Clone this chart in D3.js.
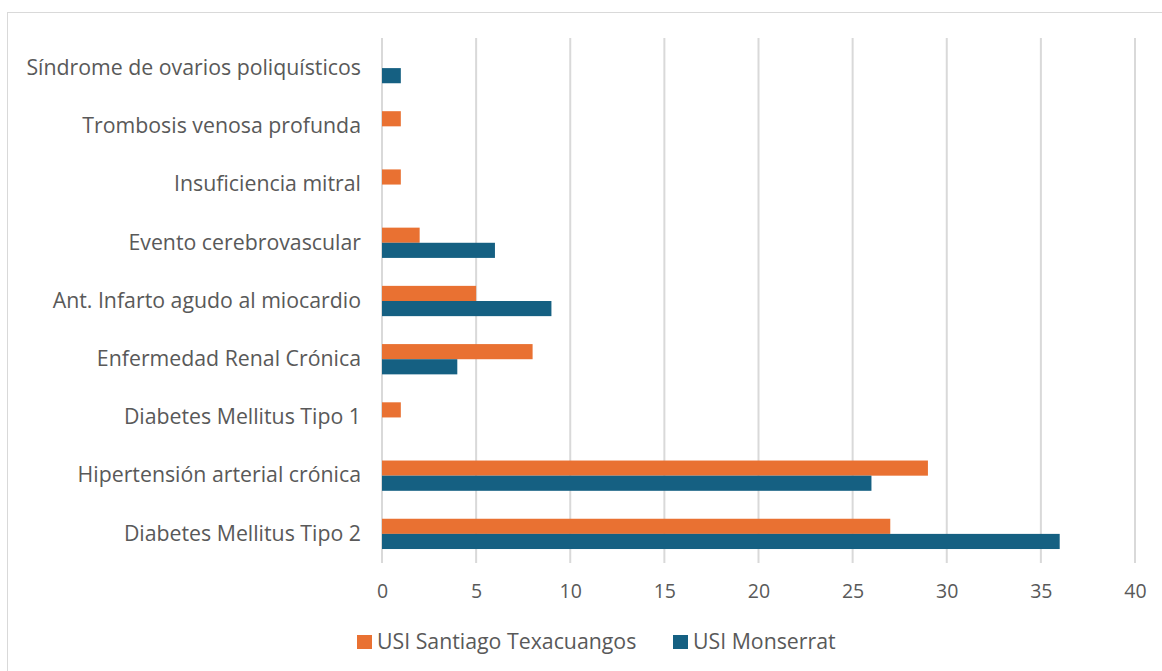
<!DOCTYPE html>
<html><head><meta charset="utf-8">
<script src="https://cdn.jsdelivr.net/npm/d3@7"></script>
<style>body{margin:0;background:#fff;} svg{display:block;}</style>
</head><body>
<svg id="c" width="1162" height="671"></svg>
<script>
const categories = ["Síndrome de ovarios poliquísticos","Trombosis venosa profunda","Insuficiencia mitral","Evento cerebrovascular","Ant. Infarto agudo al miocardio","Enfermedad Renal Crónica","Diabetes Mellitus Tipo 1","Hipertensión arterial crónica","Diabetes Mellitus Tipo 2"];
const seriesNames = ["USI Santiago Texacuangos","USI Monserrat"];
const santiago = [0,1,1,2,5,8,1,29,27];
const monserrat = [1,0,0,6,9,4,0,26,36];
const xTicks = [0,5,10,15,20,25,30,35,40];
const colors = ["#E97132","#156082"];

const svg = d3.select("#c");
const font = "'Open Sans', sans-serif";
svg.append("rect").attr("x",7.5).attr("y",12.5).attr("width",1170).attr("height",680)
  .attr("fill","#fff").attr("stroke","#d9d9d9").attr("stroke-width",1);

const x = d3.scaleLinear().domain([0,40]).range([382,1135]);
const y = d3.scaleBand().domain(categories).range([39,563]).paddingInner(0.48).paddingOuter(0.24);
const ys = d3.scaleBand().domain(seriesNames).range([0,y.bandwidth()]);

const g = svg.append("g");
g.selectAll("line.grid").data(xTicks).join("line")
  .attr("x1",d=>x(d)).attr("x2",d=>x(d)).attr("y1",38).attr("y2",563)
  .attr("stroke","#d9d9d9").attr("stroke-width",2);

const data = [santiago, monserrat];
data.forEach((vals,si)=>{
  g.selectAll("rect.s"+si).data(vals).join("rect")
    .attr("x",x(0)).attr("y",(d,i)=>y(categories[i])+ys(seriesNames[si]))
    .attr("width",d=>x(d)-x(0)).attr("height",ys.bandwidth())
    .attr("fill",colors[si]);
});

const xAxis = d3.axisBottom(x).tickValues(xTicks).tickSize(0).tickPadding(0);
const ax = svg.append("g").attr("transform","translate(0,591)").call(xAxis);
ax.select(".domain").remove();
ax.selectAll("text").attr("font-family",font).attr("font-size",19.5).attr("fill","#595959").attr("dy","0.35em");

const yAxis = d3.axisLeft(y).tickSize(0).tickPadding(0);
const ay = svg.append("g").attr("transform","translate(361,0)").call(yAxis);
ay.select(".domain").remove();
ay.selectAll("text").attr("font-family",font).attr("font-size",21.3).attr("fill","#595959");

const legX = [357,673];
const leg = svg.append("g");
seriesNames.forEach((n,i)=>{
  leg.append("rect").attr("x",legX[i]).attr("y",635).attr("width",15).attr("height",14).attr("fill",colors[i]);
  leg.append("text").attr("x",legX[i]+20).attr("y",641.5).attr("dy","0.35em")
    .attr("font-family",font).attr("font-size",21.3).attr("fill","#595959").text(n);
});
</script>
</body></html>
